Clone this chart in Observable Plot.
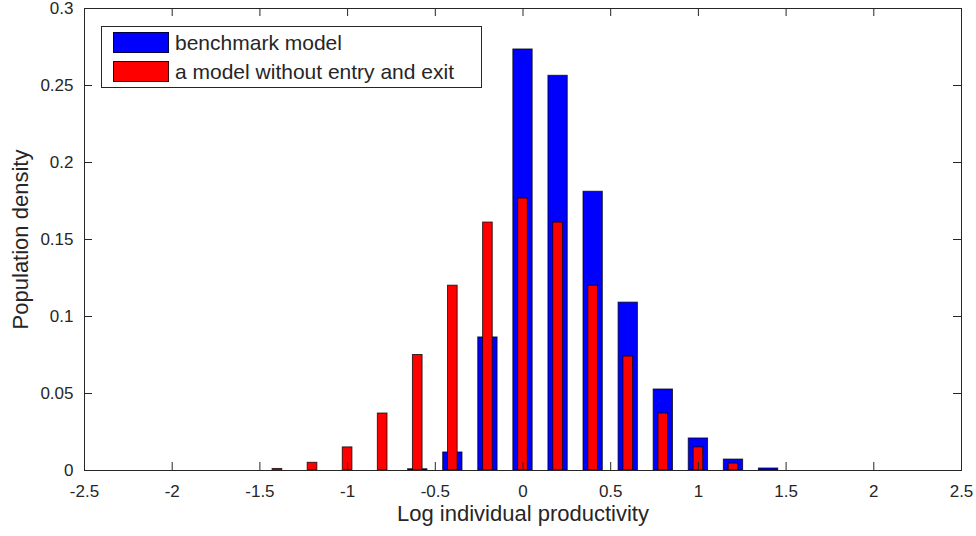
<!DOCTYPE html>
<html>
<head>
<meta charset="utf-8">
<script src="https://cdn.jsdelivr.net/npm/d3@7"></script>
<script src="https://cdn.jsdelivr.net/npm/@observablehq/plot@0.6"></script>
<style>
  html, body { margin: 0; padding: 0; background: #fff; }
  #wrap { position: relative; width: 976px; height: 536px; font-family: "Liberation Sans", Arial, sans-serif; }
  #legend { position: absolute; left: 101px; top: 26px; width: 381px; height: 62px; border: 1px solid #262626; background: #fff; box-sizing: border-box; }
  .row { position: absolute; left: 11px; height: 21px; display: flex; align-items: center; }
  .sw { width: 56px; height: 21px; box-sizing: border-box; border: 1px solid rgba(0,0,0,0.75); }
  .lab { margin-left: 6px; font-size: 21px; color: #262626; white-space: nowrap; line-height: 21px; }
</style>
</head>
<body>
<div id="wrap"></div>
<script>
const seriesNames = ["benchmark model", "a model without entry and exit"];
const seriesColors = ["#0000ff", "#ff0000"];

const benchX = [-0.6, -0.4, -0.2, 0, 0.2, 0.4, 0.6, 0.8, 1.0, 1.2, 1.4];
const benchY = [0.0008, 0.0117, 0.0864, 0.2734, 0.2563, 0.181, 0.109, 0.0526, 0.0208, 0.0071, 0.0013];

const noEntryX = [-1.4, -1.2, -1.0, -0.8, -0.6, -0.4, -0.2, 0, 0.2, 0.4, 0.6, 0.8, 1.0, 1.2];
const noEntryY = [0.001, 0.005, 0.015, 0.037, 0.075, 0.12, 0.161, 0.1766, 0.161, 0.12, 0.074, 0.037, 0.015, 0.0045];

const xTicks = [-2.5, -2, -1.5, -1, -0.5, 0, 0.5, 1, 1.5, 2, 2.5];
const yTicks = [0, 0.05, 0.1, 0.15, 0.2, 0.25, 0.3];

const xLabel = "Log individual productivity";
const yLabel = "Population density";

const benchWidth = 0.11;
const noEntryWidth = 0.055;

const bench = benchX.map((x, i) => ({x, v: benchY[i]}));
const noEntry = noEntryX.map((x, i) => ({x, v: noEntryY[i]}));

const W = 976, H = 536, mL = 84, mR = 15, mT = 8, mB = 66;
const innerW = W - mL - mR, innerH = H - mT - mB;
const tickLen = 8;
const ink = "#262626";

const chart = Plot.plot({
  width: W,
  height: H,
  marginLeft: mL,
  marginRight: mR,
  marginTop: mT,
  marginBottom: mB,
  style: {fontFamily: "'Liberation Sans', Arial, sans-serif", color: ink, background: "#fff"},
  x: {domain: [-2.5, 2.5]},
  y: {domain: [0, 0.3]},
  marks: [
    Plot.rectY(bench, {x1: d => d.x - benchWidth / 2, x2: d => d.x + benchWidth / 2, y1: 0, y2: "v",
      fill: seriesColors[0], stroke: "#000", strokeOpacity: 0.75, strokeWidth: 1}),
    Plot.rectY(noEntry, {x1: d => d.x - noEntryWidth / 2, x2: d => d.x + noEntryWidth / 2, y1: 0, y2: "v",
      fill: seriesColors[1], stroke: "#000", strokeOpacity: 0.75, strokeWidth: 1}),
    Plot.frame({stroke: ink, strokeWidth: 1}),
    Plot.tickX(xTicks, {x: d => d, insetTop: innerH - tickLen, stroke: ink}),
    Plot.tickX(xTicks, {x: d => d, insetBottom: innerH - tickLen, stroke: ink}),
    Plot.tickY(yTicks, {y: d => d, insetRight: innerW - tickLen, stroke: ink}),
    Plot.tickY(yTicks, {y: d => d, insetLeft: innerW - tickLen, stroke: ink}),
    Plot.axisX(xTicks, {tickSize: 0, tickPadding: 14, tickFormat: d => String(d), fontSize: 17, label: null, fill: ink}),
    Plot.axisY(yTicks, {tickSize: 0, tickPadding: 11, tickFormat: d => String(d), fontSize: 17, label: null, fill: ink}),
    Plot.text([xLabel], {text: d => d, frameAnchor: "bottom", textAnchor: "middle", lineAnchor: "middle", dy: 43, fontSize: 22, fill: ink}),
    Plot.text([yLabel], {text: d => d, frameAnchor: "left", textAnchor: "middle", lineAnchor: "middle", rotate: -90, dx: -64, fontSize: 22, fill: ink})
  ]
});

const wrap = document.getElementById("wrap");
wrap.appendChild(chart);

const legend = document.createElement("div");
legend.id = "legend";
seriesNames.forEach((name, i) => {
  const row = document.createElement("div");
  row.className = "row";
  row.style.top = (5 + i * 29) + "px";
  const sw = document.createElement("div");
  sw.className = "sw";
  sw.style.background = seriesColors[i];
  const lab = document.createElement("span");
  lab.className = "lab";
  lab.textContent = name;
  row.appendChild(sw);
  row.appendChild(lab);
  legend.appendChild(row);
});
wrap.appendChild(legend);
</script>
</body>
</html>
